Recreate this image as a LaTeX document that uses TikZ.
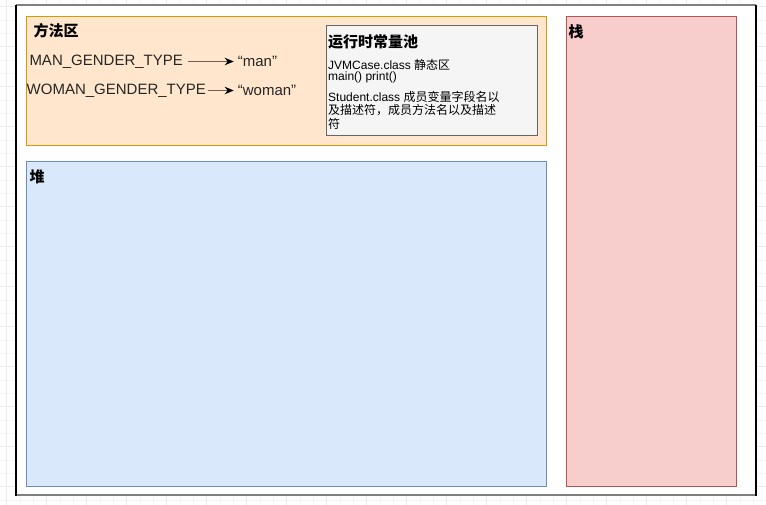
\documentclass[tikz,border=0pt]{standalone}
\usepackage{fontspec}
\setmainfont{Liberation Sans}
\newfontfamily\cjk{Noto Sans CJK SC}
\usetikzlibrary{arrows.meta}

\definecolor{methodfill}{HTML}{FFE6CC}
\definecolor{methodline}{HTML}{D79B00}
\definecolor{heapfill}{HTML}{DAE8FC}
\definecolor{heapline}{HTML}{6C8EBF}
\definecolor{stackfill}{HTML}{F8CECC}
\definecolor{stackline}{HTML}{B85450}
\definecolor{poolfill}{HTML}{F5F5F5}
\definecolor{poolline}{HTML}{666666}
\definecolor{pointergray}{HTML}{6D5F59}

\tikzset{
  area/.style={line width=1pt},
  areatitle/.style={anchor=west, inner sep=0pt, font=\cjk\bfseries\fontsize{15}{18}\selectfont},
  constname/.style={anchor=west, inner sep=0pt, text=black!85, font=\fontsize{15}{18}\selectfont},
  poolline/.style={anchor=west, inner sep=0pt, font=\fontsize{12}{14}\selectfont},
  pointer/.style={draw=pointergray, line width=1.2pt, -{Stealth[length=9pt,width=7.5pt,black]}}
}

\begin{document}
\begin{tikzpicture}[x=1pt, y=-1pt]
  \useasboundingbox (0,0) rectangle (766,504);

  % Background grid
  \begin{scope}[shift={(6.67,6.67)}]
    \draw[black!4, step=13.333pt] (-6.67,-6.67) grid (760,498);
    \draw[black!8, step=40pt] (-6.67,-6.67) grid (760,498);
  \end{scope}

  % Outer frame
  \fill[white] (16,5) rectangle (756,495);
  \draw[black!50, line width=2pt] (16,5) -- (756,5);
  \draw[black!50, line width=2.5pt] (16,495) -- (756,495);
  \draw[black, line width=1.5pt] (16,5) -- (16,495.5);
  \draw[black, line width=1.5pt] (756,5) -- (756,495.5);

  % Areas
  \filldraw[area, fill=methodfill, draw=methodline] (26,16) rectangle (546,145);
  \filldraw[area, fill=heapfill, draw=heapline] (26,161) rectangle (546,486);
  \filldraw[area, fill=stackfill, draw=stackline] (566,16) rectangle (736,486);
  \filldraw[area, fill=poolfill, draw=poolline] (326,25) rectangle (537,135);

  % Titles
  \node[areatitle] (method) at (33.5,31) {方法区};
  \node[areatitle] (heap) at (29.5,177) {堆};
  \node[areatitle] (stack) at (568.5,31.5) {栈};
  \node[areatitle] (pool) at (328,41.5) {运行时常量池};

  % Runtime constant pool entries
  \node[poolline] (jvmcase) at (328,65) {JVMCase.class {\cjk 静态区}};
  \node[poolline] (methods) at (328,77.5) {main() print()};
  \node[poolline] (student) at (328,97) {Student.class {\cjk 成员变量字段名以}};
  \node[poolline] (studentb) at (328,110.5) {\cjk 及描述符，成员方法名以及描述};
  \node[poolline] (studentc) at (328,124) {\cjk 符};

  % Constants
  \node[constname] (mantype) at (29.3,61.5) {MAN\_GENDER\_TYPE};
  \node[constname] (manval) at (237.7,61.5) {“man”};
  \node[constname] (womantype) at (26.5,90.5) {WOMAN\_GENDER\_TYPE};
  \node[constname] (womanval) at (237.7,90.5) {“woman”};

  \draw[pointer, shorten <=5pt, shorten >=4pt] (mantype.east) -- (manval.west);
  \draw[pointer, shorten <=2pt, shorten >=4pt] (womantype.east) -- (womanval.west);
\end{tikzpicture}
\end{document}
